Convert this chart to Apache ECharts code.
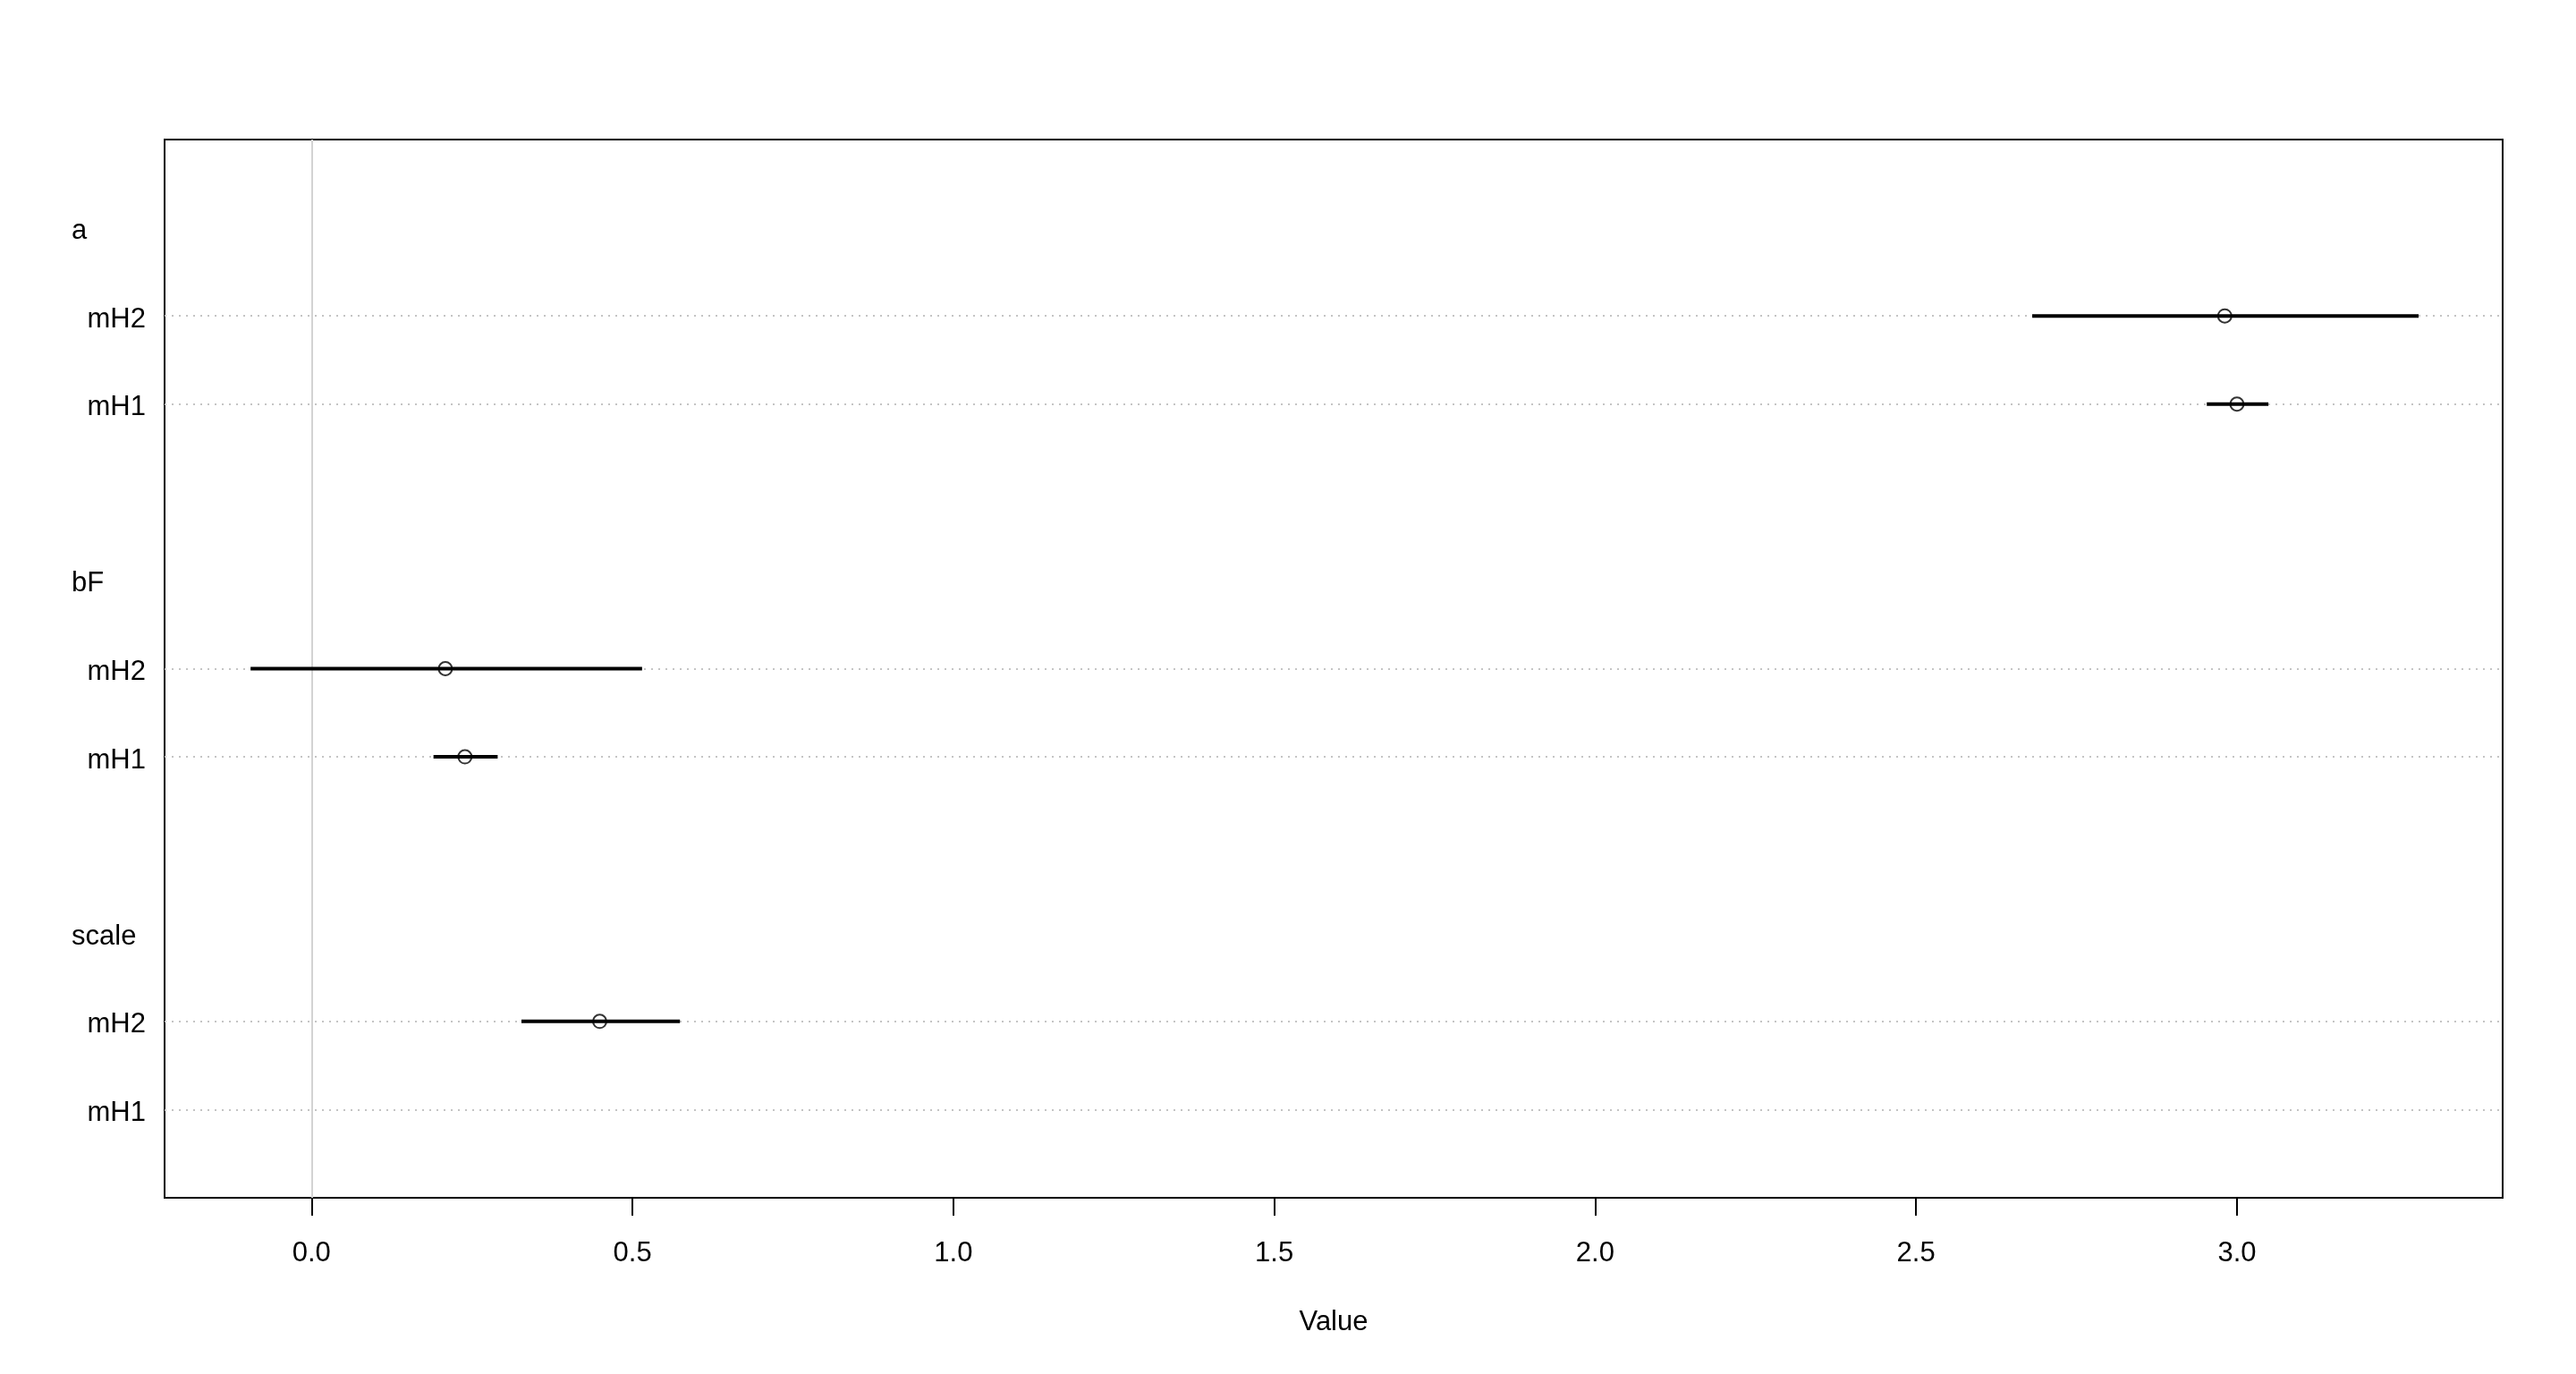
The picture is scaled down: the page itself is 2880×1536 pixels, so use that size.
<!DOCTYPE html>
<html>
<head>
<meta charset="utf-8">
<script src="https://cdn.jsdelivr.net/npm/echarts@6/dist/echarts.min.js"></script>
<style>html,body{margin:0;padding:0;background:#fff;}#c{width:2880px;height:1536px;}</style>
</head>
<body>
<div id="c"></div>
<script>
// ---- data ----
const groups = ['a', 'bF', 'scale'];
const models = ['mH2', 'mH1'];
const meanVals  = { a: [2.981, 3.000], bF: [0.2085, 0.239], scale: [0.449, null] };
const lowerVals = { a: [2.681, 2.953], bF: [-0.095, 0.190], scale: [0.327, null] };
const upperVals = { a: [3.283, 3.049], bF: [0.515, 0.290], scale: [0.574, null] };
const xTicks = [0.0, 0.5, 1.0, 1.5, 2.0, 2.5, 3.0];
const xLimits = [-0.229, 3.414];

// ---- layout of rows (R dotchart style) ----
const nRows = 12;
const labelShift = 0.04; // small downward nudge of the row-label text
const rowOf = {}; const rowLabels = {}; const groupRows = {};
groups.forEach((g, i) => {
  const top = 11 - 4 * i;
  groupRows[top] = g;
  models.forEach((m, j) => { rowOf[g + '|' + m] = top - 1 - j; rowLabels[top - 1 - j] = m; });
});
const itemRows = Object.keys(rowLabels).map(Number).sort((a,b)=>a-b);
const labelRows = Object.keys(groupRows).map(Number).sort((a,b)=>a-b);

const points = [], segs = [];
groups.forEach(g => models.forEach((m, j) => {
  const y = rowOf[g + '|' + m];
  if (meanVals[g][j] != null) points.push([meanVals[g][j], y]);
  if (lowerVals[g][j] != null) segs.push([lowerVals[g][j], upperVals[g][j], y]);
}));

const FONT = 'Liberation Sans';
const chart = echarts.init(document.getElementById('c'), null, { renderer: 'canvas' });
chart.setOption({
  animation: false,
  backgroundColor: '#fff',
  grid: { left: 184, top: 156, width: 2614, height: 1183, show: true, borderColor: '#000', borderWidth: 2, backgroundColor: 'transparent' },
  xAxis: {
    type: 'value', min: xLimits[0], max: xLimits[1],
    name: 'Value', nameLocation: 'middle', nameGap: 124,
    nameTextStyle: { fontFamily: FONT, fontSize: 31, color: '#000' },
    axisLine: { show: false },
    splitLine: { show: false },
    axisTick: { show: true, length: 20, lineStyle: { color: '#000', width: 2 }, customValues: xTicks },
    axisLabel: { customValues: xTicks, margin: 47, fontFamily: FONT, fontSize: 31, color: '#000',
      formatter: v => Number(v).toFixed(1) }
  },
  yAxis: [{
    type: 'value', min: 0, max: nRows, position: 'left',
    axisLine: { show: false }, axisTick: { show: false }, splitLine: { show: false },
    axisLabel: { show: false }
  }, {
    type: 'value', min: labelShift, max: nRows + labelShift, position: 'left',
    axisLine: { show: false }, axisTick: { show: false }, splitLine: { show: false },
    axisLabel: { customValues: itemRows, margin: 21, fontFamily: FONT, fontSize: 31, color: '#000',
      formatter: v => rowLabels[Math.round(v)] || '' }
  }, {
    type: 'value', min: labelShift, max: nRows + labelShift, position: 'left',
    axisLine: { show: false }, axisTick: { show: false }, splitLine: { show: false },
    axisLabel: { customValues: labelRows, margin: 104, align: 'left', fontFamily: FONT, fontSize: 31, color: '#000',
      formatter: v => groupRows[Math.round(v)] || '' }
  }],
  series: [{
    type: 'line', data: [], silent: true, z: 1,
    markLine: {
      silent: true, symbol: 'none', label: { show: false }, z: 1,
      lineStyle: { color: '#c4c4c4', width: 2, type: [2, 6] },
      data: itemRows.map(r => ({ yAxis: r }))
    }
  }, {
    type: 'line', data: [], silent: true, z: 1,
    markLine: {
      silent: true, symbol: 'none', label: { show: false }, z: 1,
      lineStyle: { color: '#d3d3d3', width: 2, type: 'solid' },
      data: [{ xAxis: 0 }]
    }
  }, {
    type: 'scatter', data: points, symbol: 'emptyCircle', symbolSize: 15, z: 8,
    itemStyle: { color: '#000', borderColor: '#000', borderWidth: 2 }
  }, {
    type: 'custom', z: 10, data: segs,
    renderItem: (params, api) => {
      const p1 = api.coord([api.value(0), api.value(2)]);
      const p2 = api.coord([api.value(1), api.value(2)]);
      return { type: 'line', shape: { x1: p1[0], y1: p1[1], x2: p2[0], y2: p2[1] },
        style: { stroke: '#000', lineWidth: 4 } };
    }
  }]
});
</script>
</body>
</html>
